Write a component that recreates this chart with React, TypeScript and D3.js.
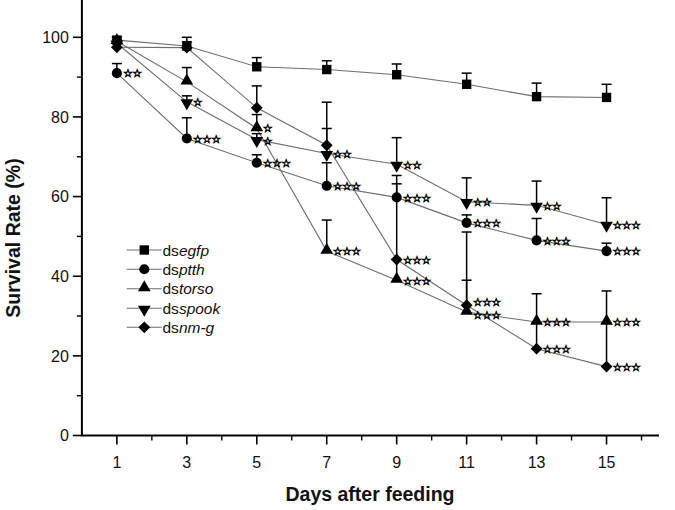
import React from "react";
import * as d3 from "d3";

const days = [1, 3, 5, 7, 9, 11, 13, 15];
const yTicks = [0, 20, 40, 60, 80, 100];
const yMinor = [10, 30, 50, 70, 90];
const xMinor = [2, 4, 6, 8, 10, 12, 14, 16];

const seriesNames = ["egfp", "ptth", "torso", "spook", "nm-g"];

const egfp = [99.3, 97.8, 92.6, 91.9, 90.6, 88.2, 85.1, 84.9];
const egfpErr = [0.8, 2.2, 2.3, 2.2, 2.7, 2.8, 3.4, 3.3];
const egfpSig = ["", "", "", "", "", "", "", ""];

const ptth = [91.0, 74.6, 68.5, 62.7, 59.8, 53.4, 49.0, 46.3];
const ptthErr = [2.4, 5.2, 2.0, 5.8, 5.5, 2.0, 5.5, 2.0];
const ptthSig = ["**", "***", "***", "***", "***", "***", "***", "***"];

const torso = [99.0, 88.8, 77.1, 46.3, 39.0, 31.0, 28.5, 28.5];
const torsoErr = [1.0, 3.6, 3.5, 7.8, 5.2, 8.0, 7.1, 7.8];
const torsoSig = ["", "", "*", "***", "***", "***", "***", "***"];

const spook = [98.5, 83.8, 74.3, 70.8, 68.1, 58.7, 57.8, 53.0];
const spookErr = [1.0, 1.5, 1.5, 6.3, 6.7, 6.0, 6.1, 6.7];
const spookSig = ["", "*", "*", "**", "**", "**", "**", "***"];

const nmg = [97.5, 97.4, 82.3, 72.9, 44.2, 32.7, 21.8, 17.3];
const nmgErr = [1.0, 1.5, 5.5, 10.8, 19.0, 18.4, 6.5, 11.0];
const nmgSig = ["", "", "", "", "***", "***", "***", "***"];

const W = 675;
const H = 510;
const x = d3.scaleLinear().domain([0, 16.5]).range([81.9, 659]);
const y = d3.scaleLinear().domain([0, 100]).range([435.5, 37.3]);
const yTop = 109.5;

type Sym = { type: d3.SymbolType; size: number; rot: number };
const symbols: Sym[] = [
  { type: d3.symbolSquare, size: 88, rot: 0 },
  { type: d3.symbolCircle, size: 80, rot: 0 },
  { type: d3.symbolTriangle, size: 70, rot: 0 },
  { type: d3.symbolTriangle, size: 70, rot: 180 },
  { type: d3.symbolSquare, size: 70, rot: 45 },
];

const series = [
  { name: seriesNames[0], vals: egfp, err: egfpErr, sig: egfpSig },
  { name: seriesNames[1], vals: ptth, err: ptthErr, sig: ptthSig },
  { name: seriesNames[2], vals: torso, err: torsoErr, sig: torsoSig },
  { name: seriesNames[3], vals: spook, err: spookErr, sig: spookSig },
  { name: seriesNames[4], vals: nmg, err: nmgErr, sig: nmgSig },
];

const FONT = "'Liberation Sans', Arial, sans-serif";

function Marker({ cx, cy, i }: { cx: number; cy: number; i: number }) {
  const s = symbols[i];
  const d = d3.symbol().type(s.type).size(s.size)() as string;
  const dy = i === 2 ? -1 : i === 3 ? 1 : 0;
  return (
    <path
      d={d}
      transform={`translate(${cx},${cy + dy}) rotate(${s.rot})`}
      fill="#000"
    />
  );
}

const SIG_FS = 11;
const SIG_GAP = 13;

// compute label positions, nudging apart labels that would collide at the same day
function labelPositions() {
  const out: { key: string; x: number; y: number; text: string }[] = [];
  days.forEach((d, j) => {
    const items = series
      .map((s, i) => ({ i, v: s.vals[j], sig: s.sig[j] }))
      .filter((o) => o.sig)
      .map((o) => ({ ...o, py: y(o.v) + 4.3 }))
      .sort((a, b) => a.py - b.py);
    for (let k = 1; k < items.length; k++) {
      if (items[k].py - items[k - 1].py < SIG_GAP) {
        const mid = (items[k].py + items[k - 1].py) / 2;
        items[k - 1].py = mid - SIG_GAP / 2;
        items[k].py = mid + SIG_GAP / 2;
      }
    }
    items.forEach((o) =>
      out.push({ key: `s${o.i}-${j}`, x: x(d) + 6, y: o.py, text: o.sig })
    );
  });
  return out;
}

export default function App() {
  const line = d3
    .line<number>()
    .x((_, j) => x(days[j]))
    .y((v) => y(v));

  const legendY = [250, 269.3, 288.7, 308.3, 327.3];
  const labels = labelPositions();

  return (
    <svg
      width={W}
      height={H}
      style={{ position: "absolute", left: 0, top: 0, background: "#fff" }}
      fontFamily={FONT}
    >
      <rect width={W} height={H} fill="#fff" />
      {/* axes */}
      <line x1={x(0)} x2={x(0)} y1={y(0)} y2={y(yTop)} stroke="#000" strokeWidth={2} />
      <line x1={x(0) - 1} x2={x(16.5)} y1={y(0)} y2={y(0)} stroke="#000" strokeWidth={2} />
      {yTicks.map((t) => (
        <g key={"yt" + t}>
          <line x1={x(0) - 9} x2={x(0)} y1={y(t)} y2={y(t)} stroke="#000" strokeWidth={1.6} />
          <text x={x(0) - 13} y={y(t) + 5.8} textAnchor="end" fontSize={16} fill="#111">
            {t}
          </text>
        </g>
      ))}
      {yMinor.map((t) => (
        <line key={"ym" + t} x1={x(0) - 5} x2={x(0)} y1={y(t)} y2={y(t)} stroke="#000" strokeWidth={1.4} />
      ))}
      {days.map((d) => (
        <g key={"xt" + d}>
          <line x1={x(d)} x2={x(d)} y1={y(0)} y2={y(0) + 9} stroke="#000" strokeWidth={1.6} />
          <text x={x(d)} y={468} textAnchor="middle" fontSize={16} fill="#111">
            {d}
          </text>
        </g>
      ))}
      {xMinor.map((d) => (
        <line key={"xm" + d} x1={x(d)} x2={x(d)} y1={y(0)} y2={y(0) + 5} stroke="#000" strokeWidth={1.4} />
      ))}
      <text x={370} y={501} textAnchor="middle" fontSize={19.5} fontWeight="bold" fill="#111">
        Days after feeding
      </text>
      <text
        transform={`translate(20,${238}) rotate(-90)`}
        textAnchor="middle"
        fontSize={19.5}
        fontWeight="bold"
        fill="#111"
      >
        Survival Rate (%)
      </text>

      {/* lines */}
      {series.map((s, i) => (
        <path key={"l" + i} d={line(s.vals) as string} fill="none" stroke="#6e6e6e" strokeWidth={1.1} />
      ))}
      {/* error bars */}
      {series.map((s, i) =>
        s.vals.map((v, j) => (
          <g key={`e${i}-${j}`} stroke="#000" strokeWidth={1.5}>
            <line x1={x(days[j])} x2={x(days[j])} y1={y(v)} y2={y(v + s.err[j])} />
            <line x1={x(days[j]) - 5} x2={x(days[j]) + 5} y1={y(v + s.err[j])} y2={y(v + s.err[j])} />
          </g>
        ))
      )}
      {/* markers */}
      {series.map((s, i) =>
        s.vals.map((v, j) => <Marker key={`m${i}-${j}`} cx={x(days[j])} cy={y(v)} i={i} />)
      )}
      {/* significance */}
      {labels.map((l) => (
        <text
          key={l.key}
          x={l.x}
          y={l.y}
          fontSize={SIG_FS}
          fontFamily="'DejaVu Sans', sans-serif"
          fill="#000"
          stroke="#000"
          strokeWidth={0.7}
          letterSpacing={-0.6}
        >
          {l.text.replace(/\*/g, "☆")}
        </text>
      ))}
      {/* legend */}
      {series.map((s, i) => (
        <g key={"lg" + i}>
          <line x1={126.7} x2={161.7} y1={legendY[i]} y2={legendY[i]} stroke="#6e6e6e" strokeWidth={1.1} />
          <Marker cx={144.3} cy={legendY[i]} i={i} />
          <text x={162.5} y={legendY[i] + 5.5} fontSize={15.5} fill="#111">
            ds<tspan fontStyle="italic">{s.name}</tspan>
          </text>
        </g>
      ))}
    </svg>
  );
}
